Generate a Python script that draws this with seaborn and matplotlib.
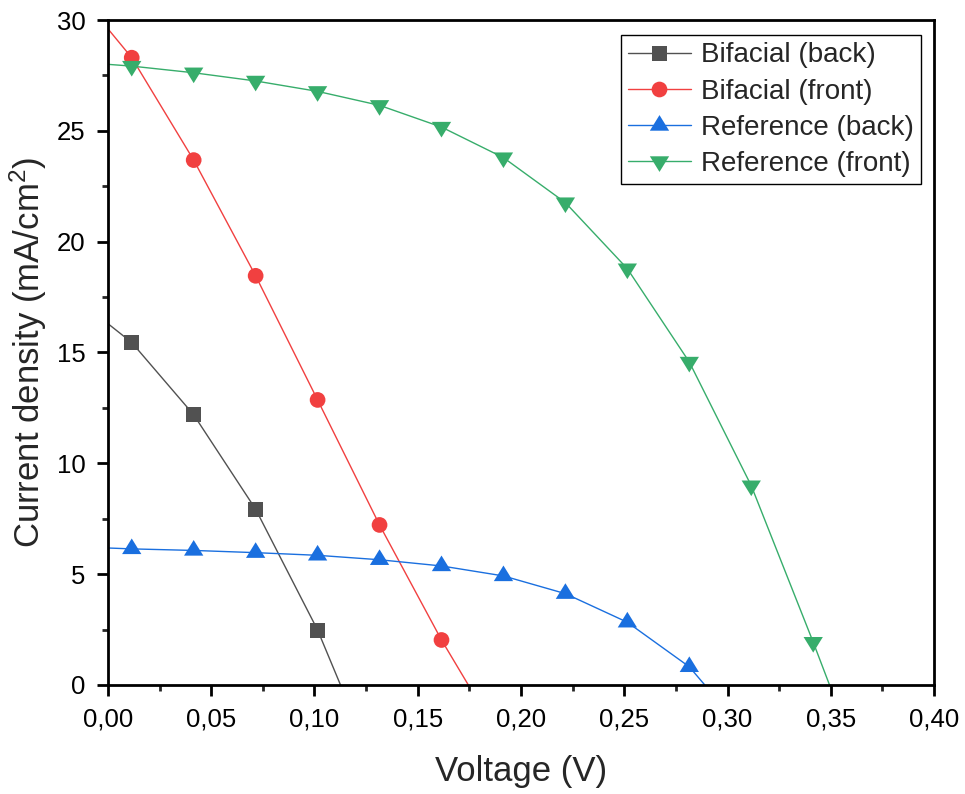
import matplotlib
matplotlib.use("Agg")
import matplotlib.pyplot as plt
from matplotlib.lines import Line2D
from matplotlib.ticker import FuncFormatter, MultipleLocator
import seaborn as sns

# ---- measured J-V data ----
# Bifacial cell, back illumination
bif_back_v = [0.0115, 0.0415, 0.0715, 0.1015]
bif_back_j = [15.45, 12.19, 7.93, 2.48]
bif_back_jsc = 16.3
bif_back_voc = 0.1126

# Bifacial cell, front illumination
bif_front_v = [0.0115, 0.0415, 0.0715, 0.1015, 0.1315, 0.1615]
bif_front_j = [28.30, 23.68, 18.46, 12.86, 7.22, 2.03]
bif_front_jsc = 29.6
bif_front_voc = 0.1745

# Reference cell, back illumination
ref_back_v = [0.0115, 0.0415, 0.0715, 0.1015, 0.1315, 0.1615, 0.1915, 0.2215, 0.2515, 0.2815]
ref_back_j = [6.14, 6.07, 5.97, 5.85, 5.65, 5.37, 4.92, 4.12, 2.83, 0.82]
ref_back_jsc = 6.18
ref_back_voc = 0.2890

# Reference cell, front illumination
ref_front_v = [0.0115, 0.0415, 0.0715, 0.1015, 0.1315, 0.1615, 0.1915, 0.2215, 0.2515,
               0.2815, 0.3115, 0.3415]
ref_front_j = [27.92, 27.62, 27.25, 26.78, 26.15, 25.17, 23.79, 21.76, 18.78,
               14.57, 8.99, 1.93]
ref_front_jsc = 28.0
ref_front_voc = 0.3494

labels = ["Bifacial (back)", "Bifacial (front)", "Reference (back)", "Reference (front)"]
colors = ["#515151", "#F14040", "#1A6FDF", "#37AD6B"]

sns.set_style("ticks")
plt.rcParams["font.family"] = ["Liberation Sans", "DejaVu Sans"]
plt.rcParams["mathtext.default"] = "regular"

# triangle markers centred on their centroid
tri_up = [(-1.0, -0.54), (1.0, -0.54), (0.0, 1.08)]
tri_down = [(-1.0, 0.54), (1.0, 0.54), (0.0, -1.08)]
markers = ["s", "o", tri_up, tri_down]
msizes = [10.8, 11.3, 15.0, 15.0]

series = [
    (bif_back_v, bif_back_j, bif_back_jsc, bif_back_voc),
    (bif_front_v, bif_front_j, bif_front_jsc, bif_front_voc),
    (ref_back_v, ref_back_j, ref_back_jsc, ref_back_voc),
    (ref_front_v, ref_front_j, ref_front_jsc, ref_front_voc),
]

fig = plt.figure(figsize=(9.65, 7.94), dpi=100)
ax = fig.add_axes([0.1119, 0.1373, 0.8560, 0.8375])

handles = []
for (v, j, jsc, voc), lab, col, mk, ms in zip(series, labels, colors, markers, msizes):
    line_v = [0.0] + list(v) + [voc]
    line_j = [jsc] + list(j) + [0.0]
    sns.lineplot(x=line_v, y=line_j, color=col, linewidth=1.0, ax=ax,
                 sort=False, estimator=None, legend=False)
    sns.scatterplot(x=v, y=j, marker=mk, s=ms ** 2, color=col, edgecolor="none",
                    linewidth=0, ax=ax, legend=False, zorder=3)
    handles.append(Line2D([], [], color=col, linewidth=1.0, marker=mk,
                          markersize=ms, markeredgewidth=0, label=lab))

ax.set_xlim(0, 0.40)
ax.set_ylim(0, 30)
ax.xaxis.set_major_locator(MultipleLocator(0.05))
ax.xaxis.set_minor_locator(MultipleLocator(0.025))
ax.yaxis.set_major_locator(MultipleLocator(5))
ax.yaxis.set_minor_locator(MultipleLocator(2.5))
ax.xaxis.set_major_formatter(FuncFormatter(lambda x, p: f"{x:.2f}".replace(".", ",")))
ax.yaxis.set_major_formatter(FuncFormatter(lambda y, p: f"{y:.0f}"))

for sp in ax.spines.values():
    sp.set_visible(True)
    sp.set_linewidth(2.0)
    sp.set_color("black")

ax.tick_params(axis="both", which="major", direction="out", length=8, width=2.0,
               labelsize=18.5, pad=8, colors="black", top=False, right=False)
ax.tick_params(axis="both", which="minor", direction="out", length=4.5, width=2.0,
               top=False, right=False)

ax.set_xlabel("Voltage (V)", fontsize=25, labelpad=17)
ax.set_ylabel("Current density (mA/cm$^2$)", fontsize=25, labelpad=6)

leg = ax.legend(handles=handles, loc="upper right", bbox_to_anchor=(0.984, 0.977),
                borderaxespad=0, fontsize=20, frameon=True, fancybox=False,
                edgecolor="black", framealpha=1, handlelength=2.25, handletextpad=0.37,
                labelspacing=0.37, borderpad=0.25)
leg.get_frame().set_linewidth(1.0)

fig.savefig("out.png", dpi=100)
